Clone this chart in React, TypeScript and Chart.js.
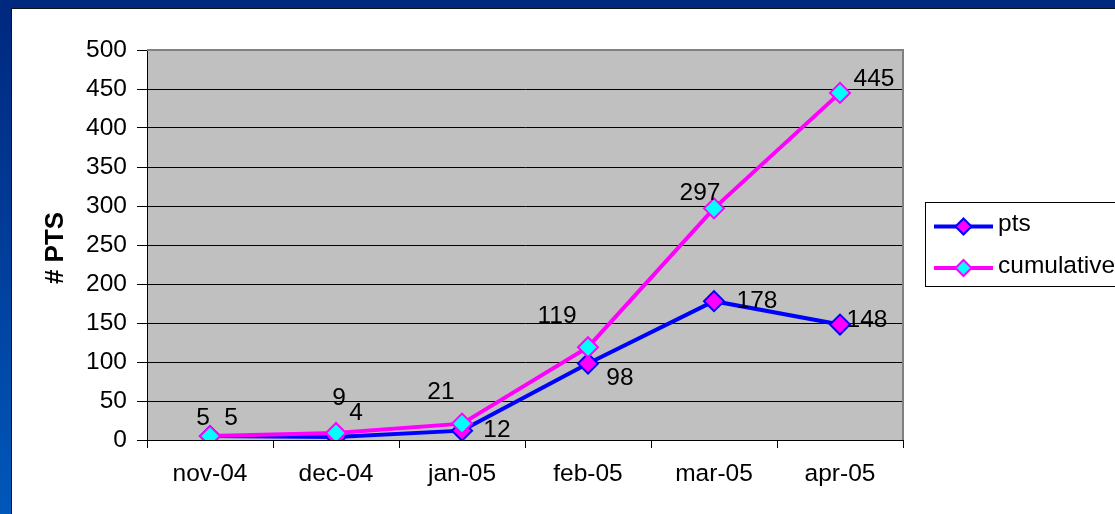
import React, { useEffect, useRef } from "react";
import { Chart, registerables } from "chart.js";

Chart.register(...registerables);

const categories = ["nov-04", "dec-04", "jan-05", "feb-05", "mar-05", "apr-05"];
const ptsValues = [5, 4, 12, 98, 178, 148];
const cumulativeValues = [5, 9, 21, 119, 297, 445];
const seriesNames = ["pts", "cumulative"];
const yAxisTitle = "# PTS";

// label offsets (pixels, relative to each point)
const ptsLabelOffsets = [[21, -18], [20, -24], [35, 0], [32, 15], [43, 0], [27, -4]];
const cumLabelOffsets = [[-7, -18], [3, -35], [-21, -31], [-31, -31], [-14, -15], [34, -14]];

const FONT = "'Liberation Sans', Arial, sans-serif";
const FS = 24.5;
const W = 1103;
const H = 505;

function drawDiamond(ctx: CanvasRenderingContext2D, x: number, y: number, r: number, fill: string, stroke: string) {
  ctx.beginPath();
  ctx.moveTo(x, y - r);
  ctx.lineTo(x + r, y);
  ctx.lineTo(x, y + r);
  ctx.lineTo(x - r, y);
  ctx.closePath();
  ctx.fillStyle = fill;
  ctx.fill();
  ctx.lineWidth = 2;
  ctx.strokeStyle = stroke;
  ctx.stroke();
}

const customPlugin = {
  id: "custom",
  beforeDraw(chart: any) {
    const { ctx, chartArea: a } = chart;
    ctx.save();
    ctx.fillStyle = "#C0C0C0";
    ctx.fillRect(a.left, a.top, a.right - a.left, a.bottom - a.top);
    ctx.restore();
  },
  beforeDatasetsDraw(chart: any) {
    const { ctx, chartArea: a } = chart;
    ctx.save();
    ctx.strokeStyle = "#808080";
    ctx.lineWidth = 2;
    ctx.beginPath();
    ctx.moveTo(a.left, a.top);
    ctx.lineTo(a.right, a.top);
    ctx.lineTo(a.right, a.bottom);
    ctx.stroke();
    ctx.restore();
  },
  afterDatasetsDraw(chart: any) {
    const { ctx } = chart;
    ctx.save();
    ctx.font = `${FS}px ${FONT}`;
    ctx.fillStyle = "#000";
    ctx.textAlign = "center";
    ctx.textBaseline = "middle";
    const sets = [
      { idx: 0, vals: ptsValues, offs: ptsLabelOffsets },
      { idx: 1, vals: cumulativeValues, offs: cumLabelOffsets },
    ];
    sets.forEach((s) => {
      const meta = chart.getDatasetMeta(s.idx);
      meta.data.forEach((pt: any, i: number) => {
        ctx.fillText(String(s.vals[i]), pt.x + s.offs[i][0], pt.y + s.offs[i][1]);
      });
    });
    ctx.restore();
  },
  afterDraw(chart: any) {
    const { ctx } = chart;
    ctx.save();
    // y-axis title
    ctx.translate(44, 239);
    ctx.rotate(-Math.PI / 2);
    ctx.font = `bold 26px ${FONT}`;
    ctx.fillStyle = "#000";
    ctx.textAlign = "center";
    ctx.textBaseline = "middle";
    ctx.fillText(yAxisTitle, 0, 0);
    ctx.restore();

    // legend
    ctx.save();
    ctx.fillStyle = "#fff";
    ctx.fillRect(913.5, 193.5, 300, 84);
    ctx.strokeStyle = "#000";
    ctx.lineWidth = 1;
    ctx.strokeRect(913.5, 193.5, 300, 84);
    const items = [
      { name: seriesNames[0], line: "#0000FF", fill: "#FF00FF", y: 217.5 },
      { name: seriesNames[1], line: "#FF00FF", fill: "#00FFFF", y: 259 },
    ];
    items.forEach((it) => {
      ctx.strokeStyle = it.line;
      ctx.lineWidth = 4;
      ctx.beginPath();
      ctx.moveTo(922, it.y);
      ctx.lineTo(981, it.y);
      ctx.stroke();
      drawDiamond(ctx, 951.5, it.y, 8, it.fill, it.line);
      ctx.font = `${FS}px ${FONT}`;
      ctx.fillStyle = "#000";
      ctx.textAlign = "left";
      ctx.textBaseline = "middle";
      ctx.fillText(it.name, 986, it.y - 2);
    });
    ctx.restore();
  },
};

export default function App() {
  const ref = useRef<HTMLCanvasElement | null>(null);
  useEffect(() => {
    if (!ref.current) return;
    const chart = new Chart(ref.current, {
      type: "line",
      data: {
        labels: categories,
        datasets: [
          {
            label: seriesNames[0],
            data: ptsValues,
            borderColor: "#0000FF",
            borderWidth: 4,
            pointStyle: "rectRot",
            pointRadius: 10,
            pointBackgroundColor: "#FF00FF",
            pointBorderColor: "#0000FF",
            pointBorderWidth: 2,
            tension: 0,
            order: 2,
          },
          {
            label: seriesNames[1],
            data: cumulativeValues,
            borderColor: "#FF00FF",
            borderWidth: 4,
            pointStyle: "rectRot",
            pointRadius: 10,
            pointBackgroundColor: "#00FFFF",
            pointBorderColor: "#FF00FF",
            pointBorderWidth: 2,
            tension: 0,
            order: 1,
          },
        ],
      },
      options: {
        animation: false,
        responsive: false,
        maintainAspectRatio: false,
        layout: { padding: { top: 41, right: 212, bottom: 0, left: 0 } },
        plugins: { legend: { display: false }, tooltip: { enabled: false } },
        scales: {
          x: {
            type: "category",
            offset: true,
            grid: {
              offset: true,
              drawOnChartArea: false,
              drawTicks: true,
              tickLength: 8,
              color: "#000",
            },
            border: { display: true, color: "#000", width: 1 },
            ticks: {
              color: "#000",
              font: { family: FONT, size: FS },
              padding: 12,
              maxRotation: 0,
            },
            afterFit(scale: any) {
              scale.height = 74;
            },
          },
          y: {
            min: 0,
            max: 500,
            ticks: {
              stepSize: 50,
              color: "#000",
              font: { family: FONT, size: FS },
              padding: 10,
            },
            grid: {
              color: "#000",
              tickColor: "#000",
              tickLength: 10,
              lineWidth: 1,
            },
            border: { display: true, color: "#000", width: 1 },
            afterFit(scale: any) {
              scale.width = 135;
            },
          },
        },
      },
      plugins: [customPlugin],
    } as any);
    return () => chart.destroy();
  }, []);

  return (
    <div
      style={{
        position: "fixed",
        left: 0,
        top: 0,
        width: 1115,
        height: 514,
        background: "linear-gradient(to bottom, #00287E 0%, #003C98 45%, #0058BA 100%)",
        overflow: "hidden",
      }}
    >
      <div
        style={{
          position: "absolute",
          left: 11,
          top: 8,
          width: 1104,
          height: 506,
          background: "#fff",
          borderLeft: "1px solid #111",
          borderTop: "1px solid #111",
        }}
      >
        <canvas ref={ref} width={W} height={H} style={{ display: "block", width: W, height: H }} />
      </div>
    </div>
  );
}
